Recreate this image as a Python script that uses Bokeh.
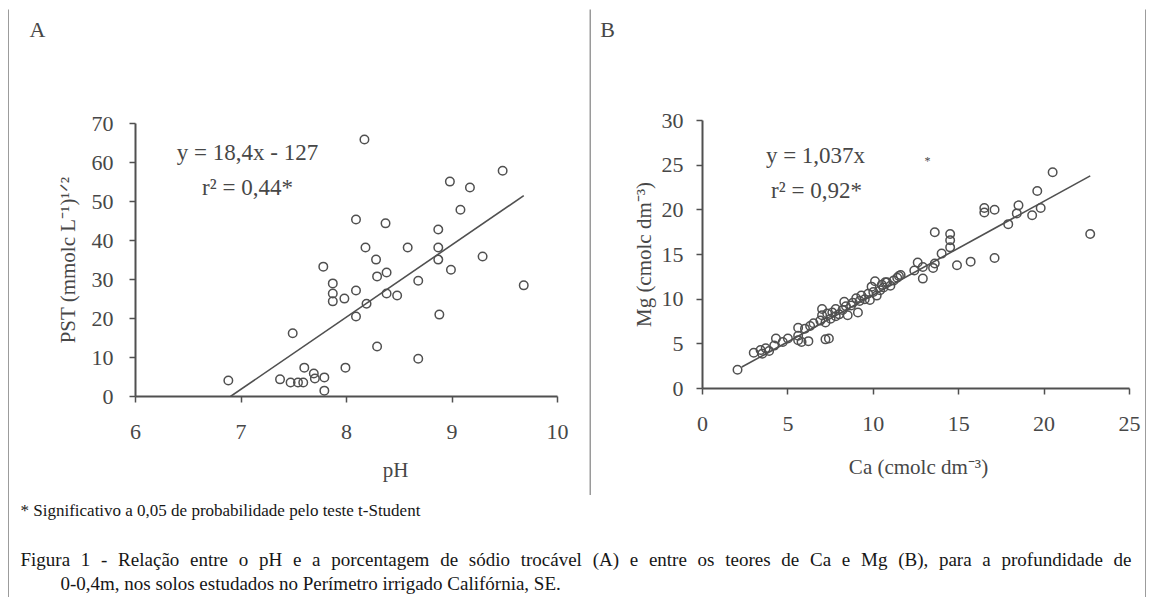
from math import pi
from bokeh.plotting import figure
from bokeh.layouts import row, column
from bokeh.models import Range1d, Label, FixedTicker, Spacer
from bokeh.embed import file_html
from bokeh.resources import INLINE

# ---------------- Panel A data : pH x PST ----------------
ph = [6.88, 7.49, 7.37, 7.47, 7.54, 7.59, 7.60, 7.69, 7.70, 7.79, 7.79, 7.99,
      8.29, 8.68, 8.88, 9.68, 8.68, 8.09, 8.19, 8.09, 7.98, 7.87, 7.87, 7.87,
      8.38, 8.48, 8.29, 8.38, 8.99, 7.78, 8.18, 8.58, 8.87, 8.87, 9.29, 8.28,
      8.17, 8.98, 9.17, 9.48, 9.08, 8.09, 8.37, 8.87]
pst = [4.1, 16.2, 4.4, 3.6, 3.6, 3.6, 7.4, 5.9, 4.6, 4.9, 1.5, 7.4,
       12.8, 9.7, 21.0, 28.5, 29.7, 20.5, 23.8, 27.2, 25.1, 29.0, 26.4, 24.4,
       26.4, 25.9, 30.8, 31.8, 32.5, 33.3, 38.2, 38.2, 38.2, 35.1, 35.9, 35.1,
       65.9, 55.1, 53.6, 57.9, 47.9, 45.4, 44.4, 42.8]
fit_a_x = [6.9, 9.68]
fit_a_y = [0.0, 51.5]
ticks_a_x = [6, 7, 8, 9, 10]
ticks_a_y = [0, 10, 20, 30, 40, 50, 60, 70]

# ---------------- Panel B data : Ca x Mg ----------------
ca = [2.05, 3.0, 3.4, 3.5, 3.7, 3.9, 4.2, 4.3, 4.7, 5.0, 5.6, 5.6, 5.8, 6.2,
      5.6, 6.0, 6.3, 6.5, 7.2, 7.4, 6.9, 7.0, 7.0, 7.2, 7.3, 7.5, 7.6, 7.8,
      7.8, 8.0, 8.2, 8.3, 8.4, 8.5, 8.7, 8.8, 9.0, 9.1, 9.2, 9.3, 9.5, 9.7,
      9.8, 9.9, 10.0, 10.1, 10.2, 10.4, 10.5, 10.6, 10.7, 10.8, 11.0, 11.2,
      11.4, 11.6, 11.5, 12.4, 12.9, 12.9, 12.6, 13.5, 13.6, 14.0, 14.5, 14.5,
      14.5, 13.6, 14.9, 15.7, 17.1, 16.5, 16.5, 17.1, 17.9, 18.4, 18.5, 19.3,
      19.8, 19.6, 20.5, 22.7]
mg = [2.1, 4.0, 4.3, 3.9, 4.5, 4.2, 4.8, 5.6, 5.2, 5.6, 5.9, 5.4, 5.2, 5.3,
      6.8, 6.7, 7.0, 7.3, 5.5, 5.6, 7.6, 8.2, 8.9, 7.4, 8.4, 7.8, 8.5, 8.9,
      8.1, 8.3, 8.8, 9.7, 9.2, 8.2, 9.3, 9.6, 10.1, 8.5, 9.8, 10.4, 10.0, 10.6,
      9.9, 11.4, 10.8, 12.0, 10.4, 11.0, 11.6, 11.3, 11.9, 11.9, 11.5, 12.1,
      12.4, 12.7, 12.6, 13.2, 12.3, 13.6, 14.1, 13.5, 14.0, 15.1, 15.8, 16.6,
      17.3, 17.5, 13.8, 14.2, 14.6, 19.7, 20.2, 20.0, 18.4, 19.6, 20.5, 19.4,
      20.2, 22.1, 24.2, 17.3]
fit_b_x = [2.3, 22.7]
fit_b_y = [2.4, 23.8]
ticks_b_x = [0, 5, 10, 15, 20, 25]
ticks_b_y = [0, 5, 10, 15, 20, 25, 30]

# ---------------- texts ----------------
panel_a_tag = "A"
panel_b_tag = "B"
eq_a = ["y = 18,4x - 127", "r\u00b2 = 0,44*"]
eq_b = ["y = 1,037x", "r\u00b2 = 0,92*"]
xlabel_a = "pH"
ylabel_a = "PST (mmolc L\u207b\u00b9)\u00b9\u141f\u00b2"
xlabel_b = "Ca (cmolc dm\u207b\u00b3)"
ylabel_b = "Mg (cmolc dm\u207b\u00b3)"
note = "* Significativo a 0,05 de probabilidade pelo teste t-Student"
caption_1 = ("Figura 1 - Relação entre o pH e a porcentagem de sódio trocável (A) "
             "e entre os teores de Ca e Mg (B), para a profundidade de")
caption_2 = "0-0,4m, nos solos estudados no Perímetro irrigado Califórnia, SE."

FONT = "Liberation Serif"
INK = "#505050"
TXT = "#474747"
CAP = "#161616"
BORDER = "#3a3a3a"
DIVIDER = "#9a9a9a"
TICK_FS = "22px"
AXLAB_FS = 21
EQ_FS = 23


def new_fig(**kw):
    try:
        return figure(frame_align=False, **kw)
    except Exception:
        return figure(**kw)


def blank(w, h, xr=None, yr=None, fill="white"):
    kw = {}
    if xr is not None:
        kw["x_range"] = Range1d(*xr)
        kw["y_range"] = Range1d(*yr)
    b = new_fig(width=w, height=h, output_backend="svg", toolbar_location=None,
                min_border=0, x_axis_location=None, y_axis_location=None,
                background_fill_color=fill, border_fill_color=fill,
                outline_line_color=None, **kw)
    b.grid.visible = False
    return b


def text_box(w, h, items):
    # a small canvas whose frame is the whole canvas; coordinates in pixels from top-left
    b = blank(w, h, (0, w), (h, 0))
    for (x, y, t, fs, align, color) in items:
        b.add_layout(Label(x=x, y=y, text=t, text_font=FONT,
                           text_font_size=f"{fs}px", text_color=color,
                           text_align=align, text_baseline="middle"))
    return b


def make_panel(w, h, borders, xr, yr, xt, yt, xs, ys, ylab, ylab_standoff):
    l, r, t, b = borders
    p = new_fig(width=w, height=h, output_backend="svg", toolbar_location=None,
                x_range=Range1d(*xr), y_range=Range1d(*yr),
                min_border_left=l, min_border_right=r,
                min_border_top=t, min_border_bottom=b,
                background_fill_color="white", border_fill_color="white",
                outline_line_color=None)
    p.grid.visible = False
    p.xaxis.ticker = FixedTicker(ticks=xt)
    p.yaxis.ticker = FixedTicker(ticks=yt)
    for ax in list(p.xaxis) + list(p.yaxis):
        ax.axis_line_color = INK
        ax.axis_line_width = 2
        ax.major_tick_line_color = INK
        ax.major_tick_line_width = 1.5
        ax.major_tick_out = 6
        ax.major_tick_in = 0
        ax.minor_tick_line_color = None
        ax.major_label_text_font = FONT
        ax.major_label_text_font_size = TICK_FS
        ax.major_label_text_color = TXT
    p.xaxis.major_label_standoff = xs
    p.yaxis.major_label_standoff = ys
    yax = p.yaxis[0]
    yax.axis_label = ylab
    yax.axis_label_standoff = ylab_standoff
    yax.axis_label_text_font = FONT
    yax.axis_label_text_font_size = f"{AXLAB_FS}px"
    yax.axis_label_text_font_style = "normal"
    yax.axis_label_text_color = TXT
    return p


def put(p, frame, px, py, text, size):
    # frame = (left, right, top, bottom) of the plotting frame in page pixels
    fl, fr, ft, fb = frame
    x0, x1 = p.x_range.start, p.x_range.end
    y0, y1 = p.y_range.start, p.y_range.end
    x = x0 + (px - fl) / (fr - fl) * (x1 - x0)
    y = y0 + (fb - py) / (fb - ft) * (y1 - y0)
    p.add_layout(Label(x=x, y=y, text=text, text_font=FONT,
                       text_font_size=f"{size}px", text_color=TXT,
                       text_align="center", text_baseline="middle"))


# ---------------- Panel A (page x 9..589) ----------------
hA = text_box(580, 40, [(28, 20, panel_a_tag, 22, "center", TXT)])
pa = make_panel(580, 404, (126, 32, 74, 57), (6, 10), (0, 70),
                ticks_a_x, ticks_a_y, 22, 16, ylabel_a, 9)
pa.scatter(ph, pst, marker="circle", size=8.5, fill_color=None,
           line_color=INK, line_width=1.5)
pa.line(fit_a_x, fit_a_y, line_color=INK, line_width=1.6)
FA = (135, 557, 123, 396)
put(pa, FA, 247, 152, eq_a[0], EQ_FS)
put(pa, FA, 247, 187, eq_a[1], EQ_FS)
fA = text_box(580, 42, [(386, 16, xlabel_a, AXLAB_FS, "center", TXT)])

# ---------------- Panel B (page x 591..1145) ----------------
hB = text_box(554, 40, [(16, 20, panel_b_tag, 22, "center", TXT)])
pb = make_panel(554, 400, (111, 16, 71, 61), (0, 25), (0, 30),
                ticks_b_x, ticks_b_y, 22, 13, ylabel_b, 3)
pb.scatter(ca, mg, marker="circle", size=8.5, fill_color=None,
           line_color=INK, line_width=1.5)
pb.line(fit_b_x, fit_b_y, line_color=INK, line_width=1.6)
FB = (702, 1129, 120, 388)
put(pb, FB, 815, 155, eq_b[0], EQ_FS)
put(pb, FB, 816, 190, eq_b[1], EQ_FS)
put(pb, FB, 927, 160, "*", 12)
fB = text_box(554, 46, [(327, 17, xlabel_b, AXLAB_FS, "center", TXT)])

# ---------------- caption (page x 9..1145, y 495..597) ----------------
W = {' ': 250, 'a': 444, 'b': 500, 'c': 444, 'd': 500, 'e': 444, 'f': 333,
     'g': 500, 'h': 500, 'i': 278, 'j': 278, 'k': 500, 'l': 278, 'm': 778,
     'n': 500, 'o': 500, 'p': 500, 'q': 500, 'r': 333, 's': 389, 't': 278,
     'u': 500, 'v': 500, 'w': 722, 'x': 500, 'y': 500, 'z': 444, 'ç': 444,
     'ã': 444, 'á': 444, 'ó': 500, 'í': 278, 'A': 722, 'B': 667, 'C': 667,
     'F': 556, 'H': 722, 'M': 889, 'R': 667, 'P': 556, 'S': 556, 'E': 611,
     '(': 333, ')': 333, ',': 250, '-': 333, '.': 250, '*': 500}


def tw(s, fs):
    return sum(W.get(ch, 500) for ch in s) / 1000.0 * fs


FS_NOTE = 17
FS_CAP = 19
items = [(11, 15, note, FS_NOTE, "left", CAP)]
words = caption_1.split(" ")
widths = [tw(wd, FS_CAP) for wd in words]
left, right = 11, 1122
gap = (right - left - sum(widths)) / (len(words) - 1)
xpos = left
for wd, wdw in zip(words, widths):
    items.append((xpos, 64, wd, FS_CAP, "left", CAP))
    xpos += wdw + gap
items.append((51, 88, caption_2, FS_CAP, "left", CAP))
cap = text_box(1136, 102, items)

# ---------------- assemble with frame lines ----------------
top = row(column(hA, pa, fA), blank(2, 486, fill=DIVIDER), column(hB, pb, fB))
mid = column(top, cap)
body = row(blank(1, 588, fill=BORDER), mid, blank(1, 588, fill=BORDER))
boxed = column(blank(1138, 1, fill=BORDER), body, blank(1138, 1, fill=BORDER))
layout = column(Spacer(width=1146, height=8),
                row(Spacer(width=8, height=590), boxed))

open("out.html", "w").write(file_html(layout, INLINE))
